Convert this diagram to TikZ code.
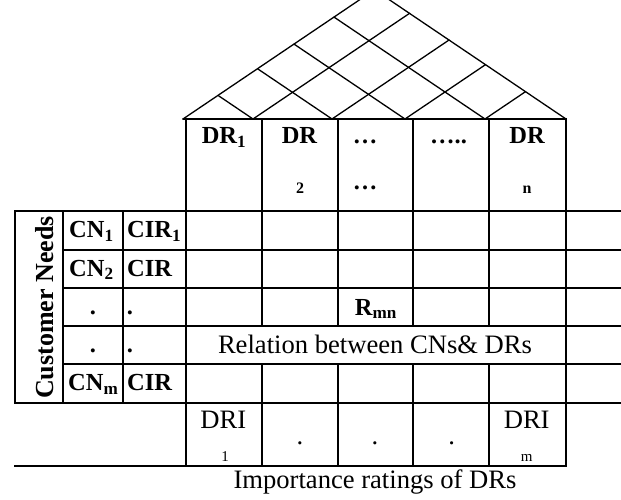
\documentclass[tikz,border=0pt]{standalone}
\usepackage{fontspec}
\setmainfont{Liberation Serif}
\tikzset{
  gridline/.style={line width=1.8pt, line cap=rect},
  roofline/.style={line width=1.3pt, line cap=round},
  bl/.style={font=\fontsize{24.5}{24.5}\selectfont\bfseries, inner sep=0pt, anchor=base},
  blw/.style={bl, anchor=base west},
  cnbig/.style={font=\fontsize{26}{26}\selectfont\bfseries, inner sep=0pt, anchor=base, rotate=90},
  rg/.style={font=\fontsize{26.6}{26.6}\selectfont, inner sep=0pt, anchor=base},
  smb/.style={font=\fontsize{16}{16}\selectfont\bfseries, inner sep=0pt, anchor=base},
  sm/.style={font=\fontsize{15}{15}\selectfont, inner sep=0pt, anchor=base},
}
\begin{document}
\begin{tikzpicture}[x=1pt, y=-1pt]
\useasboundingbox (0,0) rectangle (621,500);
\clip (0,0) rectangle (621,500);
% roof lattice
\draw[roofline] (183,119) -- (566,119);
\foreach \b in {183,253,332,405,485,566}{
  \draw[roofline] (\b,119) -- ({(\b+566)/2},{119-0.675*(566-\b)/2});
  \draw[roofline] (\b,119) -- ({(\b+183)/2},{119-0.675*(\b-183)/2});
}
% main verticals
\draw[gridline] (186,119) -- (186,466);
\draw[gridline] (566,119) -- (566,466);
\foreach \x in {262,338,413,489}{
  \draw[gridline] (\x,119) -- (\x,326);
  \draw[gridline] (\x,364) -- (\x,466);
}
% horizontals
\draw[gridline] (15,211) -- (621,211);
\foreach \y in {250,288,326,364}{
  \draw[gridline] (62.7,\y) -- (621,\y);
}
\draw[gridline] (15,403) -- (621,403);
\draw[gridline] (15,466) -- (566,466);
% left box verticals
\foreach \x in {15,62.7,122.7}{
  \draw[gridline] (\x,211) -- (\x,403);
}
% header texts
\node[bl] (h1) at (224,144) {DR\textsubscript{1}};
\node[bl] (h2) at (299.5,144) {DR};
\node[smb] (h2s) at (300,193) {2};
\node[bl] (h3a) at (365,144) {…};
\node[bl] (h3b) at (365,189) {…};
\node[bl] (h4) at (448.5,144) {…..};
\node[bl] (h5) at (527,144) {DR};
\node[smb] (h5s) at (527,193) {n};
% customer needs
\node[cnbig] (cneeds) at (53,307.5) {Customer Needs};
\node[blw] (cn1) at (69,237.5) {CN\textsubscript{1}};
\node[blw] (cir1) at (127,237.5) {CIR\textsubscript{1}};
\node[blw] (cn2) at (69,276) {CN\textsubscript{2}};
\node[blw] (cir2) at (127,276) {CIR};
\node[bl] (cn3) at (93,314) {.};
\node[bl] (cir3) at (130,314) {.};
\node[bl] (cn4) at (93,352.5) {.};
\node[bl] (cir4) at (130,352.5) {.};
\node[blw] (cn5) at (68,390.5) {CN\textsubscript{m}};
\node[blw] (cir5) at (127,390.5) {CIR};
% body
\node[bl] (rmn) at (376,315) {R\textsubscript{mn}};
\node[rg] (rel) at (375,353) {Relation between CNs\& DRs};
% importance row
\node[rg] (dri1) at (223.4,428) {DRI};
\node[sm] (dri1s) at (225,461.7) {1};
\node[rg] (d2) at (300,444) {.};
\node[rg] (d3) at (375,444) {.};
\node[rg] (d4) at (451.7,444) {.};
\node[rg] (drim) at (526.7,428) {DRI};
\node[sm] (drims) at (526.7,461.7) {m};
\node[rg] (imp) at (375,488) {Importance ratings of DRs};
\end{tikzpicture}
\end{document}
